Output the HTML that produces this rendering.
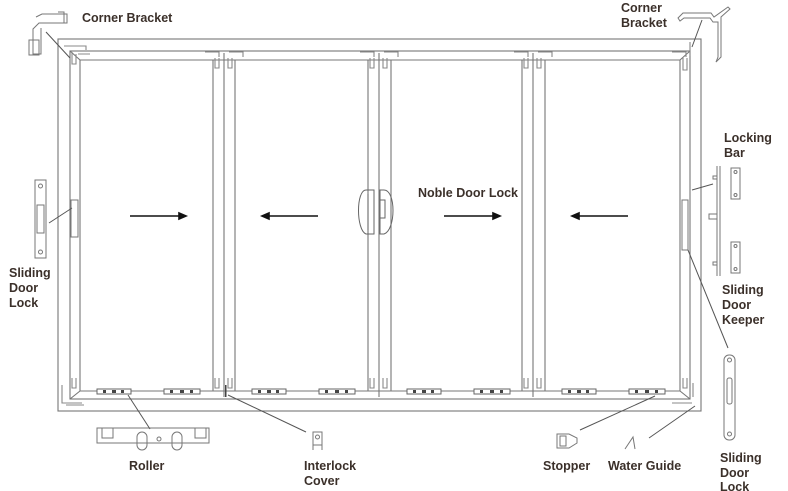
<!DOCTYPE html>
<html><head><meta charset="utf-8"><style>
html,body{margin:0;padding:0;background:#fff}
svg{display:block}
text{font-family:"Liberation Sans",sans-serif;font-weight:bold;font-size:12.5px;fill:#3b302a}
</style></head><body>
<svg width="788" height="491" viewBox="0 0 788 491" xmlns="http://www.w3.org/2000/svg">
<g fill="none" stroke="#777" stroke-width="1.1">
<rect x="58" y="39" width="643" height="372"/>
<rect x="70" y="51" width="620" height="348"/>
<line x1="80" y1="60" x2="680" y2="60"/>
<line x1="80" y1="391" x2="680" y2="391"/>
<line x1="80" y1="60" x2="80" y2="391"/>
<line x1="680" y1="60" x2="680" y2="391"/>
<line x1="213" y1="60" x2="213" y2="391"/><line x1="224" y1="53" x2="224" y2="397"/><line x1="235" y1="60" x2="235" y2="391"/>
<line x1="368" y1="60" x2="368" y2="391"/><line x1="379" y1="53" x2="379" y2="397"/><line x1="391" y1="60" x2="391" y2="391"/>
<line x1="522" y1="60" x2="522" y2="391"/><line x1="533" y1="53" x2="533" y2="397"/><line x1="545" y1="60" x2="545" y2="391"/>
<line x1="70" y1="51" x2="80" y2="60"/><line x1="690" y1="51" x2="680" y2="60"/>
<line x1="70" y1="399" x2="80" y2="391"/><line x1="690" y1="399" x2="680" y2="391"/>
<g stroke="#888">
<path d="M64 46h22v4M72 52v12h4v-10M78 54h12"/>
<path d="M205 52h14v5M229 52h14v5M215 58v10h4v-10M228 58v10h4v-10"/>
<path d="M360 52h14v5M384 52h14v5M370 58v10h4v-10M383 58v10h4v-10"/>
<path d="M514 52h14v5M538 52h14v5M524 58v10h4v-10M537 58v10h4v-10"/>
<path d="M672 52h14v5M683 58v12h4v-12M690 42v14"/>
<path d="M72 378v10h4v-10M215 378v10h4v-10M228 378v10h4v-10M370 378v10h4v-10M383 378v10h4v-10M524 378v10h4v-10M537 378v10h4v-10M683 378v10h4v-10"/>
<path d="M62 385v18h20M66 405h18M693 383v14M672 403h20"/>
</g>
</g>
<g fill="#fff" stroke="#666" stroke-width="1">
<rect x="97" y="389" width="34" height="5"/><rect x="164" y="389" width="36" height="5"/>
<rect x="252" y="389" width="34" height="5"/><rect x="319" y="389" width="36" height="5"/>
<rect x="407" y="389" width="34" height="5"/><rect x="474" y="389" width="36" height="5"/>
<rect x="562" y="389" width="34" height="5"/><rect x="629" y="389" width="36" height="5"/>
</g>
<g fill="#444">
<rect x="103" y="390" width="3" height="3"/><rect x="112" y="390" width="4" height="3"/><rect x="121" y="390" width="3" height="3"/>
<rect x="170" y="390" width="3" height="3"/><rect x="180" y="390" width="4" height="3"/><rect x="190" y="390" width="3" height="3"/>
<rect x="258" y="390" width="3" height="3"/><rect x="267" y="390" width="4" height="3"/><rect x="276" y="390" width="3" height="3"/>
<rect x="325" y="390" width="3" height="3"/><rect x="335" y="390" width="4" height="3"/><rect x="345" y="390" width="3" height="3"/>
<rect x="413" y="390" width="3" height="3"/><rect x="422" y="390" width="4" height="3"/><rect x="431" y="390" width="3" height="3"/>
<rect x="480" y="390" width="3" height="3"/><rect x="490" y="390" width="4" height="3"/><rect x="500" y="390" width="3" height="3"/>
<rect x="568" y="390" width="3" height="3"/><rect x="577" y="390" width="4" height="3"/><rect x="586" y="390" width="3" height="3"/>
<rect x="635" y="390" width="3" height="3"/><rect x="645" y="390" width="4" height="3"/><rect x="655" y="390" width="3" height="3"/>
<rect x="225" y="385" width="1.5" height="12"/>
</g>
<g stroke="#111" stroke-width="1.6" fill="#111">
<line x1="130" y1="216" x2="180" y2="216"/><path d="M186 216l-7-3v6z"/>
<line x1="268" y1="216" x2="318" y2="216"/><path d="M262 216l7-3v6z"/>
<line x1="444" y1="216" x2="494" y2="216"/><path d="M500 216l-7-3v6z"/>
<line x1="578" y1="216" x2="628" y2="216"/><path d="M572 216l7-3v6z"/>
</g>
<g fill="none" stroke="#666" stroke-width="1">
<path d="M366 190c-10 0-10 40 0 44h8v-44z"/><path d="M368 194v36"/>
<path d="M384 190c12 0 12 40 0 44h-4v-44z"/><rect x="380" y="200" width="5" height="18"/>
</g>
<g fill="none" stroke="#777" stroke-width="1">
<path d="M36 17l6-3h25v9h-28l-6 6v25h8v-26"/><path d="M58 12h6v11"/><rect x="29" y="40" width="10" height="15"/>
<line x1="46" y1="32" x2="70" y2="58" stroke="#555"/>
<path d="M678 18l5-5h28l3 4 14-10 2 2-9 8v40l-5 5 2-5v-35h-5l-3-4h-26l-4 3z"/>
<line x1="702" y1="20" x2="692" y2="47" stroke="#555"/>
<rect x="35" y="180" width="11" height="78"/><rect x="37" y="205" width="7" height="28"/>
<circle cx="40.5" cy="186" r="2"/><circle cx="40.5" cy="252" r="2"/>
<rect x="71" y="200" width="7" height="37"/>
<line x1="49" y1="223" x2="72" y2="208" stroke="#555"/>
<rect x="682" y="200" width="6" height="50"/>
<line x1="690" y1="192" x2="690" y2="258"/>
<line x1="692" y1="190" x2="713" y2="184" stroke="#555"/>
<line x1="688" y1="250" x2="728" y2="348" stroke="#555"/>
<line x1="717" y1="166" x2="717" y2="276"/><line x1="720" y1="166" x2="720" y2="276"/>
<rect x="713" y="176" width="4" height="3"/><rect x="709" y="214" width="8" height="5"/><rect x="713" y="262" width="4" height="3"/>
<rect x="731" y="168" width="9" height="31"/><circle cx="735.5" cy="172" r="1.5"/><circle cx="735.5" cy="195" r="1.5"/>
<rect x="731" y="242" width="9" height="31"/><circle cx="735.5" cy="246" r="1.5"/><circle cx="735.5" cy="269" r="1.5"/>
<rect x="724" y="355" width="11" height="85" rx="5"/><rect x="727" y="378" width="5" height="26" rx="2"/>
<circle cx="729.5" cy="360" r="2"/><circle cx="729.5" cy="434" r="2"/>
<rect x="97" y="428" width="112" height="15"/><rect x="102" y="428" width="11" height="10"/><rect x="195" y="428" width="11" height="10"/>
<rect x="137" y="432" width="10" height="18" rx="5"/><rect x="172" y="432" width="10" height="18" rx="5"/><circle cx="159" cy="439" r="2"/>
<line x1="128" y1="395" x2="150" y2="429" stroke="#555"/>
<rect x="313" y="432" width="9" height="13"/><circle cx="317.5" cy="437" r="2"/><path d="M313 445v5M322 445v5"/>
<line x1="228" y1="395" x2="306" y2="432" stroke="#555"/>
<path d="M557 434h12l8 4v5l-8 5h-12z"/><rect x="560" y="436" width="6" height="10"/>
<line x1="580" y1="430" x2="655" y2="396" stroke="#555"/>
<path d="M625 449l8-12 2 12"/>
<line x1="649" y1="438" x2="695" y2="406" stroke="#555"/>
</g>
<text x="82" y="22">Corner Bracket</text>
<text x="621" y="12">Corner</text><text x="621" y="27">Bracket</text>
<text x="724" y="142">Locking</text><text x="724" y="157">Bar</text>
<text x="418" y="197">Noble Door Lock</text>
<text x="9" y="277">Sliding</text><text x="9" y="292">Door</text><text x="9" y="307">Lock</text>
<text x="722" y="294">Sliding</text><text x="722" y="309">Door</text><text x="722" y="324">Keeper</text>
<text x="129" y="470">Roller</text>
<text x="304" y="470">Interlock</text><text x="304" y="485">Cover</text>
<text x="543" y="470">Stopper</text>
<text x="608" y="470">Water Guide</text>
<text x="720" y="462">Sliding</text><text x="720" y="477">Door</text><text x="720" y="491">Lock</text>
</svg>
</body></html>
